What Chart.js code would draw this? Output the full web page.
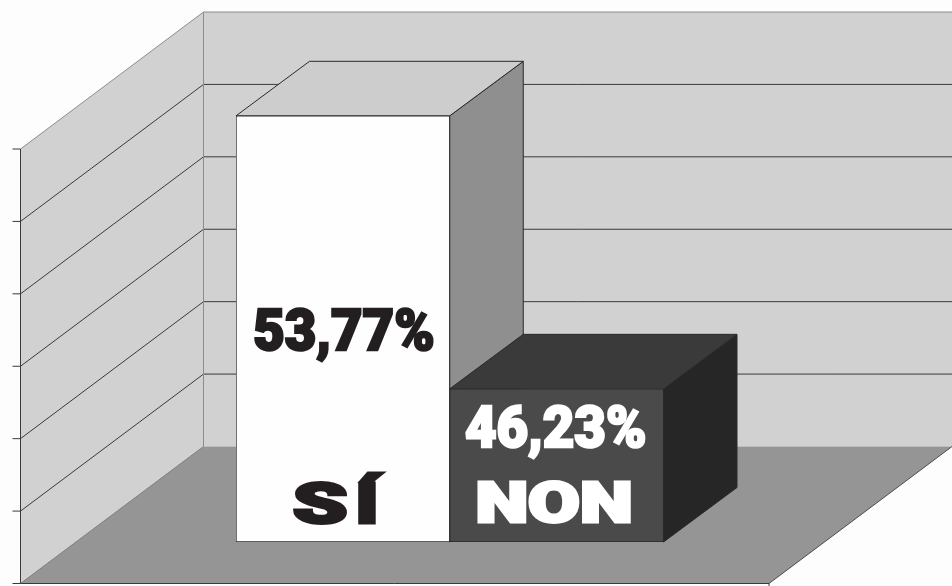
<!DOCTYPE html>
<html>
<head>
<meta charset="utf-8">
<title>SÍ / NON</title>
<script src="https://cdn.jsdelivr.net/npm/chart.js"></script>
<style>
  html, body { margin: 0; padding: 0; background: #fdfdfd; }
  canvas { display: block; }
</style>
</head>
<body>
<canvas id="resultChart" width="952" height="586"></canvas>
<script>
const categories = ['SÍ', 'NON'];
const percentages = [53.77, 46.23];
const axisTicks = [42, 44, 46, 48, 50, 52, 54];

const frontColors = ['#fefefe', '#4a4a4a'];
const topColors = ['#cdcdcd', '#3a3a3a'];
const sideColors = ['#8f8f8f', '#262626'];
const textColors = ['#231f20', '#ffffff'];

// offsets of the box depth and of the room, relative to the plot's left edge and the bar fronts
const barDepth = { x: 73.5, y: -54.5 };
const roomFront = { x: -215.5, y: 41.5 };
const roomBack = { x: -32.5, y: -95.5 };
const roomWidth = 748.5;

const poly = (ctx, points, fill, stroke) => {
  ctx.beginPath();
  points.forEach((p, i) => (i ? ctx.lineTo(p[0], p[1]) : ctx.moveTo(p[0], p[1])));
  ctx.closePath();
  if (fill) { ctx.fillStyle = fill; ctx.fill(); }
  if (stroke) { ctx.strokeStyle = stroke; ctx.lineWidth = 1; ctx.stroke(); }
};

const line = (ctx, x1, y1, x2, y2, color, width) => {
  ctx.beginPath();
  ctx.moveTo(x1, y1);
  ctx.lineTo(x2, y2);
  ctx.strokeStyle = color;
  ctx.lineWidth = width || 1;
  ctx.stroke();
};

// draws text stretched so its ink runs from left to right
const fitText = (ctx, text, left, right, baseline, font, color, bold) => {
  ctx.save();
  ctx.font = font;
  ctx.textBaseline = 'alphabetic';
  ctx.textAlign = 'left';
  const m = ctx.measureText(text);
  const ink = m.actualBoundingBoxLeft + m.actualBoundingBoxRight;
  const sx = (right - left - bold) / ink;
  ctx.translate(left + bold / 2 + m.actualBoundingBoxLeft * sx, baseline - bold / 2);
  ctx.scale(sx, 1);
  ctx.fillStyle = color;
  ctx.strokeStyle = color;
  ctx.lineWidth = bold;
  ctx.lineJoin = 'miter';
  ctx.fillText(text, 0, 0);
  if (bold) ctx.strokeText(text, 0, 0);
  ctx.restore();
};

const roomPlugin = {
  id: 'room',
  beforeDatasetsDraw(chart) {
    const ctx = chart.ctx;
    const y = chart.scales.y;
    const baseX = chart.chartArea.left + roomFront.x;
    const backX = chart.chartArea.left + roomBack.x;
    const low = y.getPixelForValue(axisTicks[0]);
    const high = y.getPixelForValue(axisTicks[axisTicks.length - 1]);

    // side wall, back wall, floor
    poly(ctx, [[baseX, high + roomFront.y], [backX, high + roomBack.y], [backX, low + roomBack.y], [baseX, low + roomFront.y]], '#d1d1d1');
    poly(ctx, [[backX, high + roomBack.y], [backX + roomWidth, high + roomBack.y], [backX + roomWidth, low + roomBack.y], [backX, low + roomBack.y]], '#d1d1d1');
    poly(ctx, [[baseX, low + roomFront.y], [backX, low + roomBack.y], [backX + roomWidth, low + roomBack.y], [baseX + roomWidth, low + roomFront.y]], '#959595');

    // grid lines run along the side wall and the back wall, with a tick mark in front
    axisTicks.forEach((v, i) => {
      const p = y.getPixelForValue(v);
      const last = i === axisTicks.length - 1;
      if (i > 0) {
        const c = last ? '#8c8c8c' : '#3a3a3a';
        line(ctx, baseX, p + roomFront.y, backX, p + roomBack.y, c);
        line(ctx, backX, p + roomBack.y, backX + roomWidth, p + roomBack.y, c);
      }
      line(ctx, baseX - 8, p + roomFront.y, baseX, p + roomFront.y, '#3a3a3a');
    });

    // room edges
    line(ctx, backX, high + roomBack.y, backX, low + roomBack.y, '#8c8c8c');
    line(ctx, baseX, low + roomFront.y, backX, low + roomBack.y, '#7d7d7d');
    line(ctx, baseX, high + roomFront.y, baseX, low + roomFront.y, '#3a3a3a');
    line(ctx, baseX, low + roomFront.y, baseX + roomWidth, low + roomFront.y, '#3a3a3a');
    line(ctx, baseX + roomWidth, low + roomFront.y, backX + roomWidth, low + roomBack.y, '#4a4a4a');
    line(ctx, baseX + roomWidth, low + roomFront.y, baseX + roomWidth, low + roomFront.y + 8, '#3a3a3a');

    // top and side faces of each box
    chart.getDatasetMeta(0).data.forEach((bar, i) => {
      const l = bar.x - bar.width / 2;
      const r = bar.x + bar.width / 2;
      const d = barDepth;
      poly(ctx, [[r, bar.y], [r + d.x, bar.y + d.y], [r + d.x, bar.base + d.y], [r, bar.base]], sideColors[i], '#2a2a2a');
      poly(ctx, [[l, bar.y], [l + d.x, bar.y + d.y], [r + d.x, bar.y + d.y], [r, bar.y]], topColors[i], '#2a2a2a');
    });
  },
  afterDatasetsDraw(chart) {
    const ctx = chart.ctx;
    const bars = chart.getDatasetMeta(0).data;
    const heavy = '900 58px Roboto, "Liberation Sans"';
    const wide = '900 55px Roboto, "Liberation Sans"';
    const pct = percentages.map((v) => String(v).replace('.', ',') + '%');
    const si = Array.from(categories[0]);

    fitText(ctx, pct[0], bars[0].x - 89, bars[0].x + 91, 351, heavy, textColors[0], 2.5);
    fitText(ctx, pct[1], bars[1].x - 92, bars[1].x + 89, 448, heavy, textColors[1], 2.5);
    fitText(ctx, si[0], bars[0].x - 50, bars[0].x + 4, 524, wide, textColors[0], 3);
    fitText(ctx, si[1], bars[0].x + 15, bars[0].x + 42, 524, wide, textColors[0], 3);
    fitText(ctx, categories[1], bars[1].x - 80, bars[1].x + 74, 523, wide, textColors[1], 3);
  }
};

new Chart(document.getElementById('resultChart'), {
  type: 'bar',
  data: {
    labels: categories,
    datasets: [{
      // floating bars so each box stands on the axis floor, not on zero
      data: percentages.map((v) => [axisTicks[0], v]),
      backgroundColor: frontColors,
      borderColor: '#2a2a2a',
      borderWidth: 1,
      borderSkipped: false,
      barPercentage: 1,
      categoryPercentage: 1
    }]
  },
  options: {
    responsive: false,
    animation: false,
    layout: { padding: { left: 236, right: 288.5, top: 107.5, bottom: 44 } },
    plugins: { legend: { display: false }, tooltip: { enabled: false } },
    scales: {
      x: { display: false },
      y: { display: false, min: 42, max: 54, ticks: { stepSize: 2 } }
    }
  },
  plugins: [roomPlugin]
});
</script>
</body>
</html>
